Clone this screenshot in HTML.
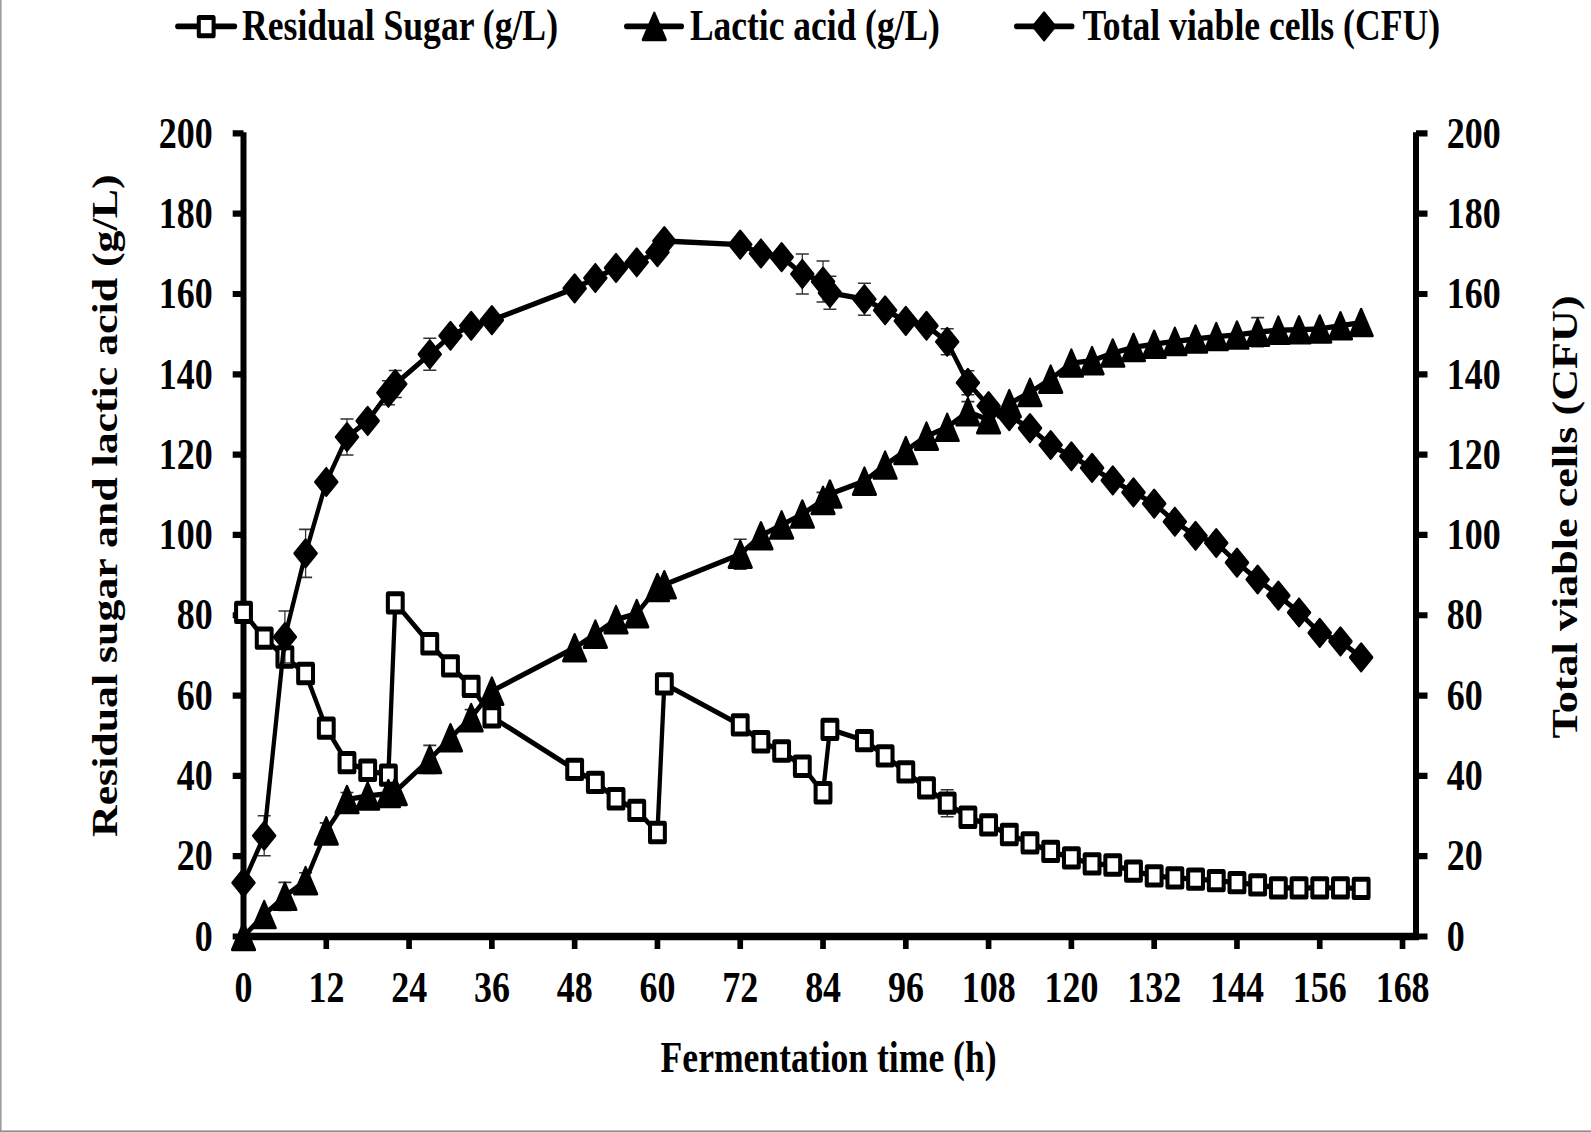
<!DOCTYPE html>
<html lang="en"><head><meta charset="utf-8"><title>Fermentation chart</title>
<style>html,body{margin:0;padding:0;background:#fff}body{width:1591px;height:1132px;overflow:hidden}svg{display:block}text{font-family:"Liberation Serif","Times New Roman",serif;font-weight:bold;fill:#000}</style>
</head><body>
<svg width="1591" height="1132" viewBox="0 0 1591 1132">
<rect x="0" y="0" width="1591" height="1132" fill="#fff"/>
<rect x="0" y="0" width="1.6" height="1132" fill="#9c9c9c"/>
<rect x="0" y="1130.4" width="1591" height="1.6" fill="#8f8f8f"/>
<g>
<g transform="scale(0.81,1)">
<g stroke="#000" stroke-width="7.4" fill="none" stroke-linecap="butt">
<path d="M300.62 132.2 V936.5 H1748.15 V132.2"/>
<path stroke-width="6.2" d="M287.28 936.5 H300.62 M1748.15 936.5 H1762.35 M287.28 856.19 H300.62 M1748.15 856.19 H1762.35 M287.28 775.88 H300.62 M1748.15 775.88 H1762.35 M287.28 695.57 H300.62 M1748.15 695.57 H1762.35 M287.28 615.26 H300.62 M1748.15 615.26 H1762.35 M287.28 534.95 H300.62 M1748.15 534.95 H1762.35 M287.28 454.64 H300.62 M1748.15 454.64 H1762.35 M287.28 374.33 H300.62 M1748.15 374.33 H1762.35 M287.28 294.02 H300.62 M1748.15 294.02 H1762.35 M287.28 213.71 H300.62 M1748.15 213.71 H1762.35 M287.28 133.4 H300.62 M1748.15 133.4 H1762.35"/>
<path stroke-width="7" d="M300.62 936.5 V949 M402.82 936.5 V949 M505.03 936.5 V949 M607.24 936.5 V949 M709.45 936.5 V949 M811.65 936.5 V949 M913.86 936.5 V949 M1016.07 936.5 V949 M1118.28 936.5 V949 M1220.48 936.5 V949 M1322.69 936.5 V949 M1424.9 936.5 V949 M1527.11 936.5 V949 M1629.31 936.5 V949 M1731.52 936.5 V949"/>
</g>
<g id="sugar">
<path d="M1169.38 789.69 V816.69 M1161.36 789.69 H1177.4 M1161.36 816.69 H1177.4 M351.72 649.02 V665.02 M343.7 649.02 H359.75 M343.7 665.02 H359.75" stroke="#333" stroke-width="1.6" fill="none"/>
<polyline fill="none" stroke="#000" stroke-width="5.3" stroke-linejoin="round" points="300.62,612.45 326.17,638.15 351.72,657.02 377.27,673.48 402.82,728.1 428.38,762.63 453.93,770.26 479.48,775.08 488,602.81 530.58,643.77 556.14,665.86 581.69,686.33 607.24,716.85 709.45,769.46 735,782.3 760.55,798.77 786.1,810.41 811.65,832.5 820.17,683.93 913.86,724.88 939.41,741.75 964.97,750.98 990.52,766.24 1016.07,792.75 1024.59,729.3 1067.17,740.54 1092.72,755.8 1118.28,771.86 1143.83,787.93 1169.38,803.19 1194.93,817.24 1220.48,824.87 1246.04,834.51 1271.59,842.94 1297.14,851.37 1322.69,857.8 1348.24,863.82 1373.8,865.02 1399.35,871.05 1424.9,875.87 1450.45,877.87 1476,879.08 1501.55,880.68 1527.11,882.69 1552.66,884.9 1578.21,887.91 1603.76,887.91 1629.31,887.91 1654.87,887.91 1680.42,888.31"/>
<g fill="#fff" stroke="#000" stroke-width="5.0" stroke-linejoin="round">
<rect x="291.47" y="603.3" width="18.3" height="18.3"/>
<rect x="317.02" y="629" width="18.3" height="18.3"/>
<rect x="342.57" y="647.87" width="18.3" height="18.3"/>
<rect x="368.12" y="664.33" width="18.3" height="18.3"/>
<rect x="393.67" y="718.95" width="18.3" height="18.3"/>
<rect x="419.23" y="753.48" width="18.3" height="18.3"/>
<rect x="444.78" y="761.11" width="18.3" height="18.3"/>
<rect x="470.33" y="765.93" width="18.3" height="18.3"/>
<rect x="478.85" y="593.66" width="18.3" height="18.3"/>
<rect x="521.43" y="634.62" width="18.3" height="18.3"/>
<rect x="546.99" y="656.71" width="18.3" height="18.3"/>
<rect x="572.54" y="677.18" width="18.3" height="18.3"/>
<rect x="598.09" y="707.7" width="18.3" height="18.3"/>
<rect x="700.3" y="760.31" width="18.3" height="18.3"/>
<rect x="725.85" y="773.15" width="18.3" height="18.3"/>
<rect x="751.4" y="789.62" width="18.3" height="18.3"/>
<rect x="776.95" y="801.26" width="18.3" height="18.3"/>
<rect x="802.5" y="823.35" width="18.3" height="18.3"/>
<rect x="811.02" y="674.78" width="18.3" height="18.3"/>
<rect x="904.71" y="715.73" width="18.3" height="18.3"/>
<rect x="930.26" y="732.6" width="18.3" height="18.3"/>
<rect x="955.82" y="741.83" width="18.3" height="18.3"/>
<rect x="981.37" y="757.09" width="18.3" height="18.3"/>
<rect x="1006.92" y="783.6" width="18.3" height="18.3"/>
<rect x="1015.44" y="720.15" width="18.3" height="18.3"/>
<rect x="1058.02" y="731.39" width="18.3" height="18.3"/>
<rect x="1083.57" y="746.65" width="18.3" height="18.3"/>
<rect x="1109.13" y="762.71" width="18.3" height="18.3"/>
<rect x="1134.68" y="778.78" width="18.3" height="18.3"/>
<rect x="1160.23" y="794.04" width="18.3" height="18.3"/>
<rect x="1185.78" y="808.09" width="18.3" height="18.3"/>
<rect x="1211.33" y="815.72" width="18.3" height="18.3"/>
<rect x="1236.89" y="825.36" width="18.3" height="18.3"/>
<rect x="1262.44" y="833.79" width="18.3" height="18.3"/>
<rect x="1287.99" y="842.22" width="18.3" height="18.3"/>
<rect x="1313.54" y="848.65" width="18.3" height="18.3"/>
<rect x="1339.09" y="854.67" width="18.3" height="18.3"/>
<rect x="1364.65" y="855.87" width="18.3" height="18.3"/>
<rect x="1390.2" y="861.9" width="18.3" height="18.3"/>
<rect x="1415.75" y="866.72" width="18.3" height="18.3"/>
<rect x="1441.3" y="868.72" width="18.3" height="18.3"/>
<rect x="1466.85" y="869.93" width="18.3" height="18.3"/>
<rect x="1492.4" y="871.53" width="18.3" height="18.3"/>
<rect x="1517.96" y="873.54" width="18.3" height="18.3"/>
<rect x="1543.51" y="875.75" width="18.3" height="18.3"/>
<rect x="1569.06" y="878.76" width="18.3" height="18.3"/>
<rect x="1594.61" y="878.76" width="18.3" height="18.3"/>
<rect x="1620.16" y="878.76" width="18.3" height="18.3"/>
<rect x="1645.72" y="878.76" width="18.3" height="18.3"/>
<rect x="1671.27" y="879.16" width="18.3" height="18.3"/>
</g></g>
<g id="lactic">
<path d="M351.72 882.35 V910.35 M343.7 882.35 H359.75 M343.7 910.35 H359.75 M377.27 872.68 V888.68 M369.25 872.68 H385.3 M369.25 888.68 H385.3 M402.82 822.89 V838.89 M394.8 822.89 H410.85 M394.8 838.89 H410.85 M428.38 792.57 V806.57 M420.35 792.57 H436.4 M420.35 806.57 H436.4 M530.58 745.42 V773.42 M522.56 745.42 H538.61 M522.56 773.42 H538.61 M581.69 709.66 V725.66 M573.66 709.66 H589.71 M573.66 725.66 H589.71 M913.86 539.22 V569.22 M905.84 539.22 H921.89 M905.84 569.22 H921.89 M1016.07 492.42 V508.42 M1008.04 492.42 H1024.09 M1008.04 508.42 H1024.09 M1194.93 401.67 V421.67 M1186.91 401.67 H1202.96 M1186.91 421.67 H1202.96 M1552.66 317.67 V346.67 M1544.63 317.67 H1560.68 M1544.63 346.67 H1560.68" stroke="#333" stroke-width="1.6" fill="none"/>
<polyline fill="none" stroke="#000" stroke-width="5.3" stroke-linejoin="round" points="300.62,936.5 326.17,914.62 351.72,896.35 377.27,880.68 402.82,830.89 428.38,799.57 453.93,795.96 479.48,793.55 488,791.54 530.58,759.42 556.14,737.73 581.69,717.66 607.24,691.15 709.45,647.79 735,634.13 760.55,619.68 786.1,613.65 811.65,587.55 820.17,584.74 913.86,554.22 939.41,535.75 964.97,524.91 990.52,514.07 1016.07,500.42 1024.59,493.99 1067.17,481.14 1092.72,465.08 1118.28,450.62 1143.83,436.17 1169.38,427.33 1194.93,411.67 1220.48,419.71 1246.04,403.64 1271.59,392.4 1297.14,379.15 1322.69,363.09 1348.24,360.68 1373.8,353.05 1399.35,347.43 1424.9,344.21 1450.45,341.4 1476,338.99 1501.55,336.58 1527.11,334.98 1552.66,332.17 1578.21,330.16 1603.76,329.76 1629.31,328.95 1654.87,325.74 1680.42,322.53"/>
<path fill="#000" stroke="#000" stroke-width="3" stroke-linejoin="round" d="M300.62 923.25L314.62 949.75L286.62 949.75Z M326.17 901.37L340.17 927.87L312.17 927.87Z M351.72 883.1L365.72 909.6L337.72 909.6Z M377.27 867.43L391.27 893.93L363.27 893.93Z M402.82 817.64L416.82 844.14L388.82 844.14Z M428.38 786.32L442.38 812.82L414.38 812.82Z M453.93 782.71L467.93 809.21L439.93 809.21Z M479.48 780.3L493.48 806.8L465.48 806.8Z M488 778.29L502 804.79L474 804.79Z M530.58 746.17L544.58 772.67L516.58 772.67Z M556.14 724.48L570.14 750.98L542.14 750.98Z M581.69 704.41L595.69 730.91L567.69 730.91Z M607.24 677.9L621.24 704.4L593.24 704.4Z M709.45 634.54L723.45 661.04L695.45 661.04Z M735 620.88L749 647.38L721 647.38Z M760.55 606.43L774.55 632.93L746.55 632.93Z M786.1 600.4L800.1 626.9L772.1 626.9Z M811.65 574.3L825.65 600.8L797.65 600.8Z M820.17 571.49L834.17 597.99L806.17 597.99Z M913.86 540.97L927.86 567.47L899.86 567.47Z M939.41 522.5L953.41 549L925.41 549Z M964.97 511.66L978.97 538.16L950.97 538.16Z M990.52 500.82L1004.52 527.32L976.52 527.32Z M1016.07 487.17L1030.07 513.67L1002.07 513.67Z M1024.59 480.74L1038.59 507.24L1010.59 507.24Z M1067.17 467.89L1081.17 494.39L1053.17 494.39Z M1092.72 451.83L1106.72 478.33L1078.72 478.33Z M1118.28 437.37L1132.28 463.87L1104.28 463.87Z M1143.83 422.92L1157.83 449.42L1129.83 449.42Z M1169.38 414.08L1183.38 440.58L1155.38 440.58Z M1194.93 398.42L1208.93 424.92L1180.93 424.92Z M1220.48 406.46L1234.48 432.96L1206.48 432.96Z M1246.04 390.39L1260.04 416.89L1232.04 416.89Z M1271.59 379.15L1285.59 405.65L1257.59 405.65Z M1297.14 365.9L1311.14 392.4L1283.14 392.4Z M1322.69 349.84L1336.69 376.34L1308.69 376.34Z M1348.24 347.43L1362.24 373.93L1334.24 373.93Z M1373.8 339.8L1387.8 366.3L1359.8 366.3Z M1399.35 334.18L1413.35 360.68L1385.35 360.68Z M1424.9 330.96L1438.9 357.46L1410.9 357.46Z M1450.45 328.15L1464.45 354.65L1436.45 354.65Z M1476 325.74L1490 352.24L1462 352.24Z M1501.55 323.33L1515.55 349.83L1487.55 349.83Z M1527.11 321.73L1541.11 348.23L1513.11 348.23Z M1552.66 318.92L1566.66 345.42L1538.66 345.42Z M1578.21 316.91L1592.21 343.41L1564.21 343.41Z M1603.76 316.51L1617.76 343.01L1589.76 343.01Z M1629.31 315.7L1643.31 342.2L1615.31 342.2Z M1654.87 312.49L1668.87 338.99L1640.87 338.99Z M1680.42 309.28L1694.42 335.78L1666.42 335.78Z"/>
</g>
<g id="cells">
<path d="M326.17 815.71 V855.71 M318.14 815.71 H334.19 M318.14 855.71 H334.19 M351.72 610.94 V662.94 M343.7 610.94 H359.75 M343.7 662.94 H359.75 M377.27 529.42 V577.42 M369.25 529.42 H385.3 M369.25 577.42 H385.3 M402.82 476.95 V486.95 M394.8 476.95 H410.85 M394.8 486.95 H410.85 M428.38 418.97 V454.97 M420.35 418.97 H436.4 M420.35 454.97 H436.4 M479.48 380.8 V404.8 M471.46 380.8 H487.5 M471.46 404.8 H487.5 M488 370.47 V397.47 M479.97 370.47 H496.02 M479.97 397.47 H496.02 M530.58 338.25 V370.25 M522.56 338.25 H538.61 M522.56 370.25 H538.61 M990.52 253.94 V293.94 M982.49 253.94 H998.54 M982.49 293.94 H998.54 M1016.07 261.07 V302.07 M1008.04 261.07 H1024.09 M1008.04 302.07 H1024.09 M1024.59 276.32 V309.32 M1016.56 276.32 H1032.61 M1016.56 309.32 H1032.61 M1067.17 283.24 V315.24 M1059.15 283.24 H1075.2 M1059.15 315.24 H1075.2 M1169.38 328.8 V354.8 M1161.36 328.8 H1177.4 M1161.36 354.8 H1177.4 M1194.93 370.76 V394.76 M1186.91 370.76 H1202.96 M1186.91 394.76 H1202.96 M1552.66 573.52 V585.52 M1544.63 573.52 H1560.68 M1544.63 585.52 H1560.68 M1654.87 635.36 V647.36 M1646.84 635.36 H1662.89 M1646.84 647.36 H1662.89" stroke="#333" stroke-width="1.6" fill="none"/>
<polyline fill="none" stroke="#000" stroke-width="5.3" stroke-linejoin="round" points="300.62,882.69 326.17,835.71 351.72,636.94 377.27,553.42 402.82,481.95 428.38,436.97 453.93,420.91 479.48,392.8 488,383.97 530.58,354.25 556.14,335.78 581.69,325.74 607.24,320.12 709.45,288.4 735,277.96 760.55,267.92 786.1,262.3 811.65,252.26 820.17,241.02 913.86,244.63 939.41,253.46 964.97,257.08 990.52,273.94 1016.07,281.57 1024.59,292.82 1067.17,299.24 1092.72,310.28 1118.28,320.92 1143.83,325.74 1169.38,341.8 1194.93,382.76 1220.48,406.05 1246.04,416.09 1271.59,428.14 1297.14,445 1322.69,456.25 1348.24,467.89 1373.8,480.34 1399.35,492.39 1424.9,503.63 1450.45,521.7 1476,535.75 1501.55,542.98 1527.11,562.66 1552.66,579.52 1578.21,595.58 1603.76,612.45 1629.31,632.93 1654.87,641.36 1680.42,657.42"/>
<path fill="#000" stroke="#000" stroke-width="3" stroke-linejoin="round" d="M300.62 869.19L314.12 882.69L300.62 896.19L287.12 882.69Z M326.17 822.21L339.67 835.71L326.17 849.21L312.67 835.71Z M351.72 623.44L365.22 636.94L351.72 650.44L338.22 636.94Z M377.27 539.92L390.77 553.42L377.27 566.92L363.77 553.42Z M402.82 468.45L416.32 481.95L402.82 495.45L389.32 481.95Z M428.38 423.47L441.88 436.97L428.38 450.47L414.88 436.97Z M453.93 407.41L467.43 420.91L453.93 434.41L440.43 420.91Z M479.48 379.3L492.98 392.8L479.48 406.3L465.98 392.8Z M488 370.47L501.5 383.97L488 397.47L474.5 383.97Z M530.58 340.75L544.08 354.25L530.58 367.75L517.08 354.25Z M556.14 322.28L569.64 335.78L556.14 349.28L542.64 335.78Z M581.69 312.24L595.19 325.74L581.69 339.24L568.19 325.74Z M607.24 306.62L620.74 320.12L607.24 333.62L593.74 320.12Z M709.45 274.9L722.95 288.4L709.45 301.9L695.95 288.4Z M735 264.46L748.5 277.96L735 291.46L721.5 277.96Z M760.55 254.42L774.05 267.92L760.55 281.42L747.05 267.92Z M786.1 248.8L799.6 262.3L786.1 275.8L772.6 262.3Z M811.65 238.76L825.15 252.26L811.65 265.76L798.15 252.26Z M820.17 227.52L833.67 241.02L820.17 254.52L806.67 241.02Z M913.86 231.13L927.36 244.63L913.86 258.13L900.36 244.63Z M939.41 239.96L952.91 253.46L939.41 266.96L925.91 253.46Z M964.97 243.58L978.47 257.08L964.97 270.58L951.47 257.08Z M990.52 260.44L1004.02 273.94L990.52 287.44L977.02 273.94Z M1016.07 268.07L1029.57 281.57L1016.07 295.07L1002.57 281.57Z M1024.59 279.32L1038.09 292.82L1024.59 306.32L1011.09 292.82Z M1067.17 285.74L1080.67 299.24L1067.17 312.74L1053.67 299.24Z M1092.72 296.78L1106.22 310.28L1092.72 323.78L1079.22 310.28Z M1118.28 307.42L1131.78 320.92L1118.28 334.42L1104.78 320.92Z M1143.83 312.24L1157.33 325.74L1143.83 339.24L1130.33 325.74Z M1169.38 328.3L1182.88 341.8L1169.38 355.3L1155.88 341.8Z M1194.93 369.26L1208.43 382.76L1194.93 396.26L1181.43 382.76Z M1220.48 392.55L1233.98 406.05L1220.48 419.55L1206.98 406.05Z M1246.04 402.59L1259.54 416.09L1246.04 429.59L1232.54 416.09Z M1271.59 414.64L1285.09 428.14L1271.59 441.64L1258.09 428.14Z M1297.14 431.5L1310.64 445L1297.14 458.5L1283.64 445Z M1322.69 442.75L1336.19 456.25L1322.69 469.75L1309.19 456.25Z M1348.24 454.39L1361.74 467.89L1348.24 481.39L1334.74 467.89Z M1373.8 466.84L1387.3 480.34L1373.8 493.84L1360.3 480.34Z M1399.35 478.89L1412.85 492.39L1399.35 505.89L1385.85 492.39Z M1424.9 490.13L1438.4 503.63L1424.9 517.13L1411.4 503.63Z M1450.45 508.2L1463.95 521.7L1450.45 535.2L1436.95 521.7Z M1476 522.25L1489.5 535.75L1476 549.25L1462.5 535.75Z M1501.55 529.48L1515.05 542.98L1501.55 556.48L1488.05 542.98Z M1527.11 549.16L1540.61 562.66L1527.11 576.16L1513.61 562.66Z M1552.66 566.02L1566.16 579.52L1552.66 593.02L1539.16 579.52Z M1578.21 582.08L1591.71 595.58L1578.21 609.08L1564.71 595.58Z M1603.76 598.95L1617.26 612.45L1603.76 625.95L1590.26 612.45Z M1629.31 619.43L1642.81 632.93L1629.31 646.43L1615.81 632.93Z M1654.87 627.86L1668.37 641.36L1654.87 654.86L1641.37 641.36Z M1680.42 643.92L1693.92 657.42L1680.42 670.92L1666.92 657.42Z"/>
</g>
<g id="legend">
<line x1="219.14" y1="26.3" x2="289.88" y2="26.3" stroke="#000" stroke-width="5.8" stroke-linecap="round"/>
<g fill="#fff" stroke="#000" stroke-width="5.0" stroke-linejoin="round"><rect x="245.42" y="17.55" width="18.3" height="18.3"/></g>
<line x1="773.33" y1="26.3" x2="841.6" y2="26.3" stroke="#000" stroke-width="5.8" stroke-linecap="round"/>
<path fill="#000" stroke="#000" stroke-width="3" stroke-linejoin="round" d="M807.78 13.15L821.78 39.65L793.78 39.65Z"/>
<line x1="1254.81" y1="26.3" x2="1323.58" y2="26.3" stroke="#000" stroke-width="5.8" stroke-linecap="round"/>
<path fill="#000" stroke="#000" stroke-width="3" stroke-linejoin="round" d="M1289.01 12.9L1302.51 26.4L1289.01 39.9L1275.51 26.4Z"/>
<text x="298.77" y="40.2" font-size="43.8" text-anchor="start" textLength="390.12" lengthAdjust="spacingAndGlyphs">Residual Sugar (g/L)</text>
<text x="851.85" y="40.2" font-size="43.8" text-anchor="start" textLength="308.52" lengthAdjust="spacingAndGlyphs">Lactic acid (g/L)</text>
<text x="1336.3" y="40.2" font-size="43.8" text-anchor="start" textLength="441.48" lengthAdjust="spacingAndGlyphs">Total viable cells (CFU)</text>
</g>
<g id="ticklabels">
<text x="262.59" y="950.7" font-size="44.4" text-anchor="end">0</text>
<text x="1786.17" y="950.7" font-size="44.4" text-anchor="start">0</text>
<text x="262.59" y="870.39" font-size="44.4" text-anchor="end">20</text>
<text x="1786.17" y="870.39" font-size="44.4" text-anchor="start">20</text>
<text x="262.59" y="790.08" font-size="44.4" text-anchor="end">40</text>
<text x="1786.17" y="790.08" font-size="44.4" text-anchor="start">40</text>
<text x="262.59" y="709.77" font-size="44.4" text-anchor="end">60</text>
<text x="1786.17" y="709.77" font-size="44.4" text-anchor="start">60</text>
<text x="262.59" y="629.46" font-size="44.4" text-anchor="end">80</text>
<text x="1786.17" y="629.46" font-size="44.4" text-anchor="start">80</text>
<text x="262.59" y="549.15" font-size="44.4" text-anchor="end">100</text>
<text x="1786.17" y="549.15" font-size="44.4" text-anchor="start">100</text>
<text x="262.59" y="468.84" font-size="44.4" text-anchor="end">120</text>
<text x="1786.17" y="468.84" font-size="44.4" text-anchor="start">120</text>
<text x="262.59" y="388.53" font-size="44.4" text-anchor="end">140</text>
<text x="1786.17" y="388.53" font-size="44.4" text-anchor="start">140</text>
<text x="262.59" y="308.22" font-size="44.4" text-anchor="end">160</text>
<text x="1786.17" y="308.22" font-size="44.4" text-anchor="start">160</text>
<text x="262.59" y="227.91" font-size="44.4" text-anchor="end">180</text>
<text x="1786.17" y="227.91" font-size="44.4" text-anchor="start">180</text>
<text x="262.59" y="147.6" font-size="44.4" text-anchor="end">200</text>
<text x="1786.17" y="147.6" font-size="44.4" text-anchor="start">200</text>
<text x="300.74" y="1002.2" font-size="44.4" text-anchor="middle">0</text>
<text x="402.95" y="1002.2" font-size="44.4" text-anchor="middle">12</text>
<text x="505.16" y="1002.2" font-size="44.4" text-anchor="middle">24</text>
<text x="607.36" y="1002.2" font-size="44.4" text-anchor="middle">36</text>
<text x="709.57" y="1002.2" font-size="44.4" text-anchor="middle">48</text>
<text x="811.78" y="1002.2" font-size="44.4" text-anchor="middle">60</text>
<text x="913.99" y="1002.2" font-size="44.4" text-anchor="middle">72</text>
<text x="1016.19" y="1002.2" font-size="44.4" text-anchor="middle">84</text>
<text x="1118.4" y="1002.2" font-size="44.4" text-anchor="middle">96</text>
<text x="1220.61" y="1002.2" font-size="44.4" text-anchor="middle">108</text>
<text x="1322.81" y="1002.2" font-size="44.4" text-anchor="middle">120</text>
<text x="1425.02" y="1002.2" font-size="44.4" text-anchor="middle">132</text>
<text x="1527.23" y="1002.2" font-size="44.4" text-anchor="middle">144</text>
<text x="1629.44" y="1002.2" font-size="44.4" text-anchor="middle">156</text>
<text x="1731.64" y="1002.2" font-size="44.4" text-anchor="middle">168</text>
</g>
<text x="815.56" y="1072" font-size="43.8" text-anchor="start" textLength="414.81" lengthAdjust="spacingAndGlyphs">Fermentation time (h)</text>
<text transform="translate(145.06,837) rotate(-90)" font-size="43.8" textLength="662.5" lengthAdjust="spacingAndGlyphs">Residual sugar and lactic acid (g/L)</text>
<text transform="translate(1946.91,738.6) rotate(-90)" font-size="43.8" textLength="443.2" lengthAdjust="spacingAndGlyphs">Total viable cells (CFU)</text>
</g></g></svg></body></html>
